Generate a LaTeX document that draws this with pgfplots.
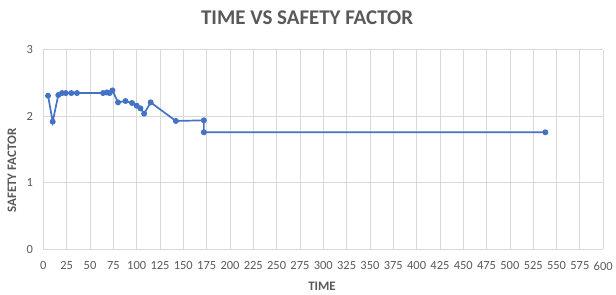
\documentclass[border=0pt]{standalone}
\usepackage{pgfplots}
\pgfplotsset{compat=1.18}
\usepackage{fontspec}
\setmainfont{Carlito}
\definecolor{serblue}{HTML}{4472C4}
\definecolor{gridc}{HTML}{D9D9D9}
\definecolor{txtc}{HTML}{595959}
\begin{document}
\begin{tikzpicture}
\begin{axis}[
  scale only axis,
  width=561.5pt, height=200pt,
  xmin=0, xmax=600, ymin=0, ymax=3,
  xtick={0,25,...,600},
  ytick={0,1,2,3},
  grid=major,
  major grid style={gridc, line width=0.8pt},
  axis line style={draw=none},
  tick style={draw=none},
  /pgf/number format/assume math mode=true,
  ticklabel style={font=\fontsize{12.5}{14}\selectfont, text=txtc},
  xticklabel style={yshift=-9pt},
  yticklabel style={xshift=-7pt},
  clip=false,
]
\addplot[serblue, line width=1.7pt, mark=*, mark size=2.1pt, mark options={fill=serblue, draw=serblue}] coordinates {
(5,2.31) (10,1.92) (16,2.32) (20,2.35) (24,2.35) (30,2.35) (36,2.35)
(64,2.35) (68,2.36) (71,2.35) (74,2.39) (80,2.21) (88,2.23) (95,2.2)
(100,2.16) (104,2.12) (108,2.04) (115,2.21) (142,1.93) (172,1.94)
(172,1.76) (538,1.76)
};
\draw[gridc, line width=1pt] (axis cs:0,0) -- (axis cs:600,0);
\end{axis}
\node[font=\fontsize{21}{24}\selectfont\bfseries, text=txtc] at (264.5pt,232pt) {TIME VS SAFETY FACTOR};
\node[font=\fontsize{13}{15}\selectfont\bfseries, text=txtc] at (279.5pt,-37pt) {TIME};
\node[font=\fontsize{13}{15}\selectfont\bfseries, text=txtc, rotate=90] at (-31.5pt,79pt) {SAFETY FACTOR};
\path[use as bounding box] (-43.5pt,-45pt) rectangle (572.5pt,250pt);
\end{tikzpicture}
\end{document}
